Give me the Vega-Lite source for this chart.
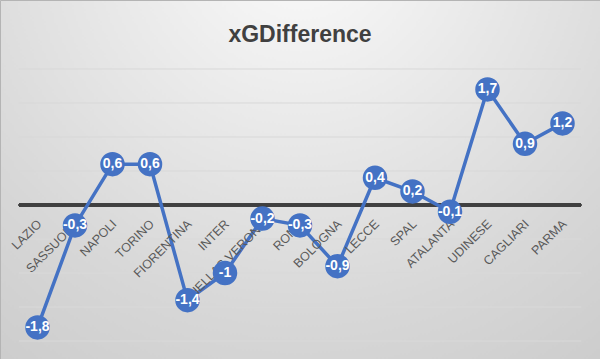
{
  "$schema": "https://vega.github.io/schema/vega-lite/v6.json",
  "width": 600,
  "height": 359,
  "autosize": {"type": "none"},
  "padding": 0,
  "background": "#d6d6d6",
  "config": {
    "view": {
      "fill": {"gradient": "radial", "x1": 0.5, "y1": 0.1, "r1": 0, "x2": 0.5, "y2": 0.1, "r2": 1.05,
        "stops": [{"offset": 0, "color": "#fbfbfb"}, {"offset": 0.6, "color": "#d7d7d7"}, {"offset": 1, "color": "#c4c4c4"}]},
      "stroke": "#b4b4b4",
      "strokeWidth": 1
    },
    "locale": {"number": {"decimal": ",", "thousands": ".", "grouping": [3], "currency": ["", " €"], "minus": "-"}}
  },
  "title": {"text": "xGDifference", "font": "Liberation Sans", "fontSize": 23, "fontWeight": "bold", "color": "#404040", "anchor": "middle", "frame": "group", "offset": -47},
  "datasets": {
    "teams": [
      {"team": "LAZIO", "xg": -1.8},
      {"team": "SASSUOLO", "xg": -0.3},
      {"team": "NAPOLI", "xg": 0.6},
      {"team": "TORINO", "xg": 0.6},
      {"team": "FIORENTINA", "xg": -1.4},
      {"team": "INTER", "xg": -1.0},
      {"team": "HELLAS VERONA", "xg": -0.2},
      {"team": "ROMA", "xg": -0.3},
      {"team": "BOLOGNA", "xg": -0.9},
      {"team": "LECCE", "xg": 0.4},
      {"team": "SPAL", "xg": 0.2},
      {"team": "ATALANTA", "xg": -0.1},
      {"team": "UDINESE", "xg": 1.7},
      {"team": "CAGLIARI", "xg": 0.9},
      {"team": "PARMA", "xg": 1.2}
    ],
    "grid": [{"v": -2}, {"v": -1.5}, {"v": -1}, {"v": -0.5}, {"v": 0.5}, {"v": 1}, {"v": 1.5}, {"v": 2}]
  },
  "data": {"name": "teams"},
  "layer": [
    {
      "data": {"name": "grid"},
      "mark": {"type": "rule", "color": "#d9d9d9", "strokeWidth": 1, "xOffset": -18.6, "x2Offset": 18.6},
      "encoding": {
        "x": {"datum": "LAZIO", "type": "ordinal", "scale": {"type": "point", "padding": 1.065, "domain": ["LAZIO","SASSUOLO","NAPOLI","TORINO","FIORENTINA","INTER","HELLAS VERONA","ROMA","BOLOGNA","LECCE","SPAL","ATALANTA","UDINESE","CAGLIARI","PARMA"]}, "axis": null},
        "x2": {"datum": "PARMA"},
        "y": {"field": "v", "type": "quantitative", "scale": {"domain": [-2.2647, 3.0147], "nice": false, "zero": false}, "axis": null}
      }
    },
    {
      "mark": {"type": "rule", "color": "#404040", "strokeWidth": 2.5, "xOffset": -18.6, "x2Offset": 18.6},
      "encoding": {
        "x": {"datum": "LAZIO", "type": "ordinal"},
        "x2": {"datum": "PARMA"},
        "y": {"datum": 0, "type": "quantitative"}
      }
    },
    {
      "mark": {"type": "line", "color": "#4472C4", "strokeWidth": 3.5},
      "encoding": {
        "x": {"field": "team", "type": "ordinal", "sort": null},
        "y": {"field": "xg", "type": "quantitative"}
      }
    },
    {
      "mark": {"type": "text", "angle": -45, "align": "right", "baseline": "middle", "font": "Liberation Sans", "fontSize": 12.5, "color": "#595959", "xOffset": 2, "yOffset": 17},
      "encoding": {
        "x": {"field": "team", "type": "ordinal", "sort": null},
        "y": {"datum": 0, "type": "quantitative"},
        "text": {"field": "team"}
      }
    },
    {
      "mark": {"type": "circle", "size": 600, "opacity": 1, "color": "#4472C4"},
      "encoding": {
        "x": {"field": "team", "type": "ordinal", "sort": null},
        "y": {"field": "xg", "type": "quantitative"}
      }
    },
    {
      "mark": {"type": "text", "font": "Liberation Sans", "fontSize": 14, "fontWeight": "bold", "color": "#ffffff", "align": "center", "baseline": "middle"},
      "encoding": {
        "x": {"field": "team", "type": "ordinal", "sort": null},
        "y": {"field": "xg", "type": "quantitative"},
        "text": {"field": "xg", "type": "quantitative", "format": ".1~f"}
      }
    }
  ]
}
